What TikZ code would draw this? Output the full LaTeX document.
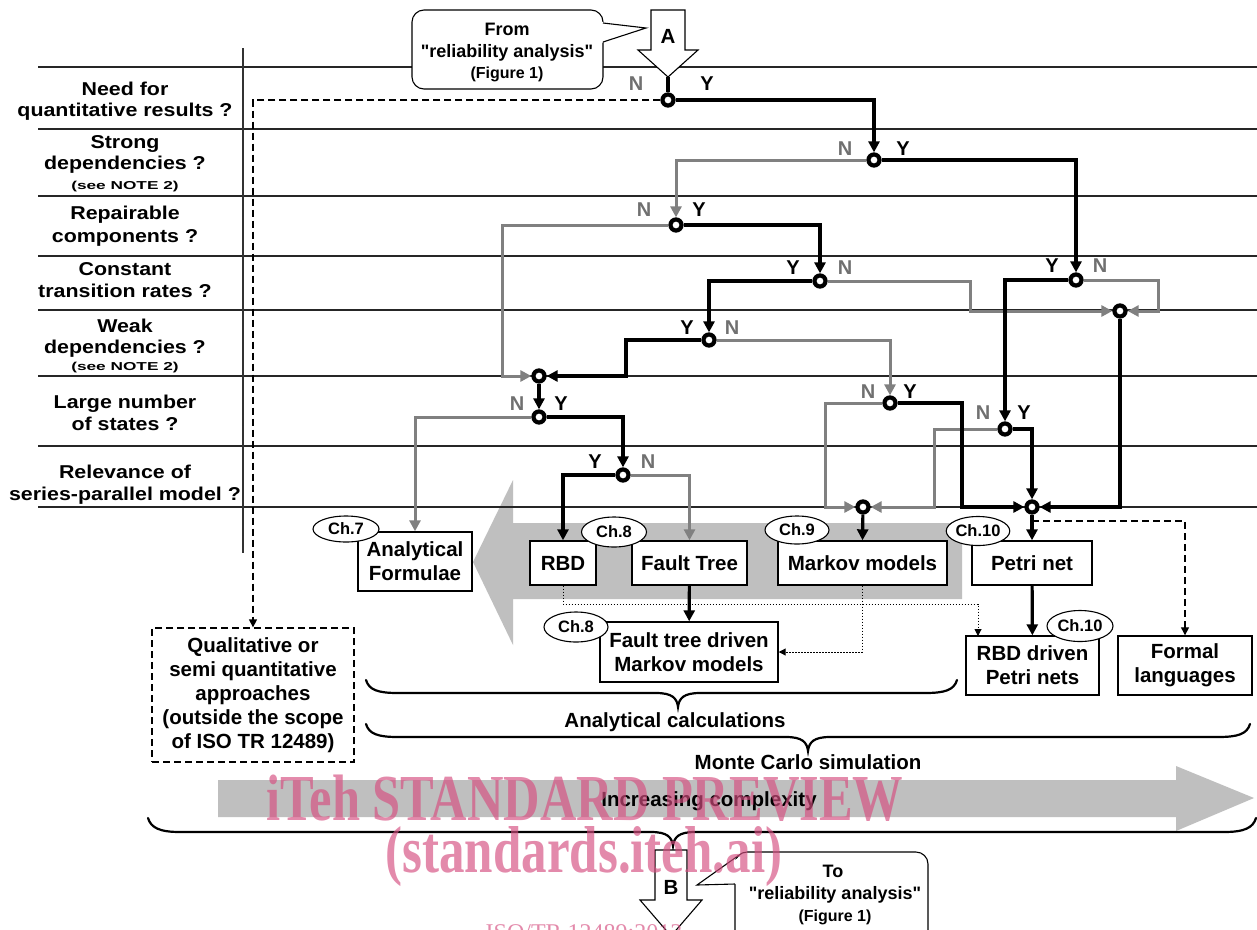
\documentclass[tikz,border=0pt]{standalone}
\usepackage{fontspec}
\usepackage{graphicx}
\setmainfont{Liberation Sans}
\newfontfamily\plainsans{Liberation Sans}
\newfontfamily\rowfont{Liberation Sans}[FakeStretch=1.15]
\newfontfamily\notefont{Liberation Sans}[FakeStretch=1.5]
\newfontfamily\wmfont{Liberation Serif}
\usetikzlibrary{arrows.meta,shapes.geometric}
\definecolor{flowgray}{RGB}{128,128,128}
\definecolor{labgray}{RGB}{112,112,112}
\definecolor{bggray}{RGB}{191,191,191}
\definecolor{wmpink}{RGB}{214,78,128}
\newcommand\bfs[2]{\fontsize{#1}{#2}\selectfont\bfseries}
\newcommand\dq{{\plainsans"}}
\tikzset{
  hline/.style={line width=1.1pt, draw=black!85},
  dec/.style={circle, draw, line width=2.8pt, fill=white, minimum size=12.5pt, inner sep=0pt},
  blk/.style={line width=3.2pt, black, -{Triangle[length=11pt,width=11pt]}},
  gry/.style={line width=3pt, flowgray, -{Triangle[length=11pt,width=11pt]}},
  dotln/.style={line width=1pt, dash pattern=on 1.5pt off 1.5pt, -{Triangle[length=7pt,width=7pt]}},
  dashln/.style={line width=1.3pt, dash pattern=on 7pt off 4pt, -{Triangle[length=8pt,width=8pt]}},
  box/.style={draw, line width=1.4pt, fill=white, align=center, inner sep=0pt, font=\bfs{20.5}{24}},
  chap/.style={ellipse, draw, line width=1.1pt, fill=white, inner sep=0pt, font=\bfs{16.5}{18}},
  nlab/.style={font=\bfs{20}{22}, text=labgray, inner sep=0pt},
  ylab/.style={font=\bfs{20}{22}, text=black, inner sep=0pt},
  rowtxt/.style={font=\rowfont\bfs{18.6}{22}, anchor=base, inner sep=0pt},
  notetxt/.style={font=\notefont\bfs{11.5}{13}, anchor=base, inner sep=0pt},
  calltxt/.style={font=\bfs{18}{20}, anchor=base, inner sep=0pt},
  callsmall/.style={font=\bfs{16}{18}, anchor=base, inner sep=0pt},
  plain/.style={font=\bfs{20.5}{24}, anchor=base, inner sep=0pt},
  callout/.style={rectangle, draw, line width=1.1pt, rounded corners=12pt, fill=white, inner sep=0pt},
  brc/.style={line width=2.2pt, line cap=round},
  wm/.style={text=wmpink, text opacity=0.66, anchor=base, inner sep=0pt}
}
\begin{document}
\begin{tikzpicture}[x=1pt,y=-1pt]
\useasboundingbox (0,0) rectangle (1257,929);
\fill[white] (0,0) rectangle (1257,929);

% background grey arrows
\fill[bggray] (473,562) -- (513,480) -- (513,523) -- (962,523) -- (962,599) -- (513,599) -- (513,645) -- cycle;
\fill[bggray] (218,780) -- (1176,780) -- (1176,766) -- (1254,798) -- (1176,831) -- (1176,817) -- (218,817) -- cycle;

% table lines
\foreach \yy in {67,129,196,256,310,376,446,507}
  \draw[hline] (38,\yy) -- (1257,\yy);
\draw[line width=1.3pt, draw=black!80] (243,48) -- (243,553);

% row labels
\node[rowtxt] (r1a) at (125,95) {Need for};
\node[rowtxt] (r1b) at (125,116) {quantitative results ?};
\node[rowtxt] (r2a) at (125,148) {Strong};
\node[rowtxt] (r2b) at (125,169) {dependencies ?};
\node[notetxt] (r2c) at (125,189) {(see NOTE 2)};
\node[rowtxt] (r3a) at (125,219) {Repairable};
\node[rowtxt] (r3b) at (125,242) {components ?};
\node[rowtxt] (r4a) at (125,275) {Constant};
\node[rowtxt] (r4b) at (125,297) {transition rates ?};
\node[rowtxt] (r5a) at (125,332) {Weak};
\node[rowtxt] (r5b) at (125,353) {dependencies ?};
\node[notetxt] (r5c) at (125,370) {(see NOTE 2)};
\node[rowtxt] (r6a) at (125,408) {Large number};
\node[rowtxt] (r6b) at (125,430) {of states ?};
\node[rowtxt] (r7a) at (125,478) {Relevance of};
\node[rowtxt] (r7b) at (125,500) {series-parallel model ?};

% braces
\draw[brc] (366,680) .. controls (369,690) and (378,693) .. (398,693) -- (656,693)
  .. controls (672,693) and (677,698) .. (678,707) .. controls (679,698) and (684,693) .. (700,693)
  -- (925,693) .. controls (945,693) and (954,690) .. (957,680);
\draw[brc] (366,724) .. controls (369,734) and (378,737) .. (398,737) -- (786,737)
  .. controls (802,737) and (807,742) .. (808,751) .. controls (809,742) and (814,737) .. (830,737)
  -- (1218,737) .. controls (1238,737) and (1247,734) .. (1250,724);
\draw[brc] (148,818) .. controls (151,828) and (160,832) .. (180,832) -- (651,832)
  .. controls (667,832) and (672,837) .. (673,846) .. controls (674,837) and (679,832) .. (695,832)
  -- (1224,832) .. controls (1244,832) and (1253,828) .. (1256,818);
\node[plain] (acalc) at (675,727) {Analytical calculations};
\node[plain] (mcs) at (808,769) {Monte Carlo simulation};
\node[plain] (incx) at (709,806) {Increasing complexity};

% decision / junction nodes
\node[dec] (D1) at (668,100) {};
\node[dec] (D2) at (874,160) {};
\node[dec] (D3) at (676,225) {};
\node[dec] (D4) at (1076,280) {};
\node[dec] (D5) at (820,281) {};
\node[dec] (D6) at (709,340) {};
\node[dec] (J1) at (539,376) {};
\node[dec] (J2) at (1120,311) {};
\node[dec] (D7) at (890,403) {};
\node[dec] (D8) at (1005,429) {};
\node[dec] (D9) at (539,417) {};
\node[dec] (D10) at (623,475) {};
\node[dec] (J3) at (863,507) {};
\node[dec] (J4) at (1032,507) {};

% boxes
\node[box, minimum width=114pt, minimum height=59pt] (AF) at (415,561.5) {Analytical\\Formulae};
\node[box, minimum width=66pt, minimum height=44pt] (RBD) at (563,563) {RBD};
\node[box, minimum width=115pt, minimum height=44pt] (FT) at (689.5,563) {Fault Tree};
\node[box, minimum width=169pt, minimum height=44pt] (MM) at (862.5,563) {Markov models};
\node[box, minimum width=120pt, minimum height=44pt] (PN) at (1032,563) {Petri net};
\node[box, minimum width=178pt, minimum height=60pt] (FTM) at (689,652) {Fault tree driven\\Markov models};
\node[box, minimum width=133pt, minimum height=59pt] (RPN) at (1032.5,665.5) {RBD driven\\Petri nets};
\node[box, minimum width=134pt, minimum height=59pt] (FL) at (1185,665.5) {Formal\\languages};
\node[box, dash pattern=on 7pt off 4pt, line width=1.3pt, minimum width=202pt, minimum height=134pt] (Qual) at (253,695)
  {Qualitative or\\semi quantitative\\approaches\\(outside the scope\\of ISO TR 12489)};

% grey (N) flows
\draw[gry] (D2) -| (D3);
\draw[gry] (D3) -| (502,376) -- (J1);
\draw[gry] (D5) -| (970,311) -- (J2);
\draw[gry] (D4) -| (1158,311) -- (J2);
\draw[gry] (D6) -| (D7);
\draw[gry] (D9) -| (AF.north);
\draw[gry] (D10) -| (FT.north);
\draw[gry] (D7) -| (825,507) -- (J3);
\draw[gry] (D8) -| (934,507) -- (J3);

% black (Y) flows
\coordinate (Atip) at (668,77);
\draw[line width=3.2pt] (Atip) -- (D1);
\draw[blk] (D1) -| (D2);
\draw[blk] (D2) -| (D4);
\draw[blk] (D3) -| (D5);
\draw[blk] (D5) -| (D6);
\draw[blk] (D4) -| (D8);
\draw[blk] (D6) -| (626,376) -- (J1);
\draw[blk] (J1) -- (D9);
\draw[blk] (D9) -| (D10);
\draw[blk] (D10) -| (RBD.north);
\draw[blk] (D7) -| (962,507) -- (J4);
\draw[blk] (D8) -| (J4);
\draw[blk] (J2) |- (J4);
\draw[blk] (J3) -- (MM.north);
\draw[blk] (J4) -- (PN.north);
\draw[blk] (FT) -- (FTM);
\draw[blk] (PN) -- (RPN);

% redraw circles on top
\foreach \p in {(668,100),(874,160),(676,225),(1076,280),(820,281),(709,340),(539,376),(1120,311),(890,403),(1005,429),(539,417),(623,475),(863,507),(1032,507)}
  \draw[line width=2.8pt, fill=white] \p circle (5pt);

% dashed / dotted flows
\draw[dashln] (D1) -| (Qual.north);
\coordinate (J4d) at (1032,521);
\draw[dashln] (J4d) -| (FL.north);
\coordinate (rpnin) at (978,636);
\draw[dotln] (RBD.south) |- (978,604) -- (rpnin);
\draw[dotln] (MM.south) |- (FTM.east);

% chapter ellipses
\node[chap, minimum width=66pt, minimum height=26pt] (ch7) at (346,529) {Ch.7};
\node[chap, minimum width=65pt, minimum height=30pt] (ch8a) at (614,532) {Ch.8};
\node[chap, minimum width=64pt, minimum height=28pt] (ch9) at (797,530) {Ch.9};
\node[chap, minimum width=63pt, minimum height=29pt] (ch10a) at (978,531) {Ch.10};
\node[chap, minimum width=66pt, minimum height=31pt] (ch10b) at (1080,626) {Ch.10};
\node[chap, minimum width=64pt, minimum height=30pt] (ch8b) at (576,627) {Ch.8};

% Y / N labels
\node[nlab] (n1) at (636,84) {N};   \node[ylab] (y1) at (707,84) {Y};
\node[nlab] (n2) at (845,149) {N};  \node[ylab] (y2) at (903,149) {Y};
\node[nlab] (n3) at (644,210) {N};  \node[ylab] (y3) at (699,210) {Y};
\node[ylab] (y5) at (793,268) {Y};  \node[nlab] (n5) at (845,268) {N};
\node[ylab] (y4) at (1052,266) {Y}; \node[nlab] (n4) at (1100,266) {N};
\node[ylab] (y6) at (687,328) {Y};  \node[nlab] (n6) at (732,328) {N};
\node[nlab] (n7) at (868,392) {N};  \node[ylab] (y7) at (910,392) {Y};
\node[nlab] (n8) at (983,413) {N};  \node[ylab] (y8) at (1024,413) {Y};
\node[nlab] (n9) at (517,404) {N};  \node[ylab] (y9) at (561,404) {Y};
\node[ylab] (y10) at (595,462) {Y}; \node[nlab] (n10) at (648,462) {N};

% top connector A and callout
\draw[line width=1.1pt, fill=white] (651,10) -- (685,10) -- (685,50) -- (698,50) -- (668,77) -- (638,50) -- (651,50) -- cycle;
\node[font=\bfs{20.5}{22}, inner sep=0pt] (Alab) at (668,36) {A};
\node[callout, minimum width=191pt, minimum height=79pt] (fromc) at (507.5,49.5) {};
\fill[white] (601,22) -- (646,28) -- (601,43) -- cycle;
\draw[line width=1.1pt] (603,23) -- (646,28) -- (603,42);
\node[calltxt] (fr1) at (507,35) {From};
\node[calltxt] (fr2) at (507,57) {\dq reliability analysis\dq};
\node[callsmall] (fr3) at (507,78) {(Figure 1)};

% bottom connector B and callout, watermark
\begin{scope}
\clip (0,0) rectangle (1257,929);
\draw[line width=1.1pt, fill=white] (655,850) -- (687,850) -- (687,900) -- (702,900) -- (671,936) -- (640,900) -- (655,900) -- cycle;
\node[font=\bfs{20.5}{22}, inner sep=0pt] (Blab) at (671,887) {B};
\node[callout, minimum width=193pt, minimum height=90pt] (toc) at (831.5,897) {};
\fill[white] (741,856) -- (697,885) -- (741,884) -- cycle;
\draw[line width=1.1pt] (738.5,855.5) -- (697,885) -- (735,884);
\node[calltxt] (to1) at (833,877) {To};
\node[calltxt] (to2) at (835,899) {\dq reliability analysis\dq};
\node[callsmall] (to3) at (835,921) {(Figure 1)};
\node[wm] (wm1) at (585,820) {\scalebox{1}[1.3]{\wmfont\bfseries\fontsize{50.5}{55}\selectfont iTeh STANDARD PREVIEW}};
\node[wm] (wm2) at (584,872) {\scalebox{1}[1.3]{\wmfont\bfseries\fontsize{51}{55}\selectfont (standards.iteh.ai)}};
\node[wm] (wm3) at (584,940) {\wmfont\fontsize{24}{26}\selectfont ISO/TR 12489:2013};
\end{scope}
\end{tikzpicture}
\end{document}
